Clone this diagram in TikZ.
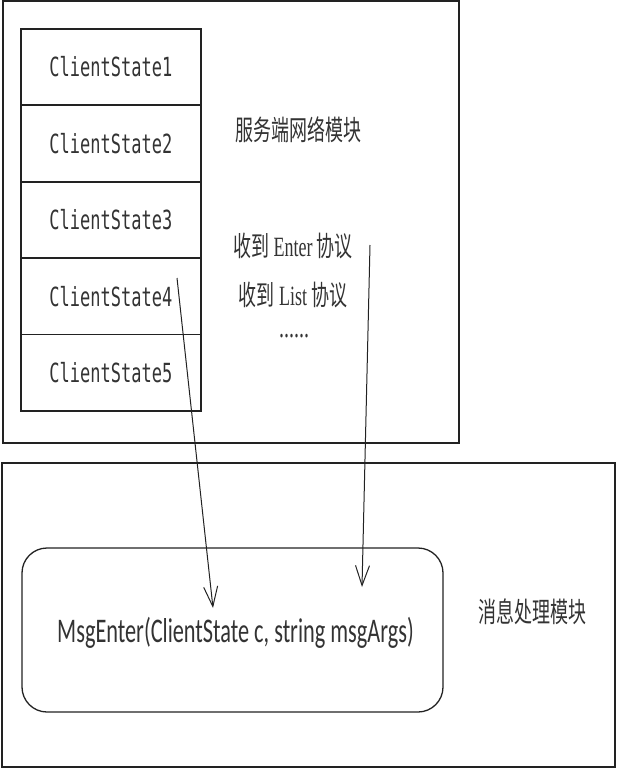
\documentclass[tikz,border=0pt]{standalone}
\usepackage{graphicx}
\usepackage{fontspec}
\setmainfont{Liberation Serif}
\newfontfamily\cjk{Noto Sans CJK SC}
\newfontfamily\monof{DejaVu Sans Mono}
\newfontfamily\calib{Carlito}
\usetikzlibrary{arrows.meta}
\definecolor{ink}{HTML}{222222}
\definecolor{txt}{HTML}{333333}
\newcommand\vstr[1]{\scalebox{1}[1.55]{#1}}
\tikzset{
  frame/.style={draw=ink, line width=1.3pt},
  csbox/.style={draw=ink, line width=1.8pt, minimum width=180pt, minimum height=76.4pt, inner sep=0pt, anchor=north west, text=txt, font=\monof\fontsize{17}{17}\selectfont},
  lbl/.style={text=txt, inner sep=0pt},
  conn/.style={draw=ink, line width=1pt, -{Straight Barb[length=20pt,width=14pt,line width=1pt]}},
}
\begin{document}
\begin{tikzpicture}[x=1pt,y=-1pt]
\useasboundingbox (0,0) rectangle (617,770);
% top module
\draw[frame] (3,1) rectangle (459,443);
\node[csbox] (cs1) at (20,28) {\vstr{ClientState1}};
\node[csbox] (cs2) at (20,104.4) {\vstr{ClientState2}};
\node[csbox] (cs3) at (20,180.8) {\vstr{ClientState3}};
\node[csbox] (cs4) at (20,257.2) {\vstr{ClientState4}};
\node[csbox] (cs5) at (20,333.6) {\vstr{ClientState5}};
\node[lbl, font=\cjk\fontsize{18}{18}\selectfont] (net) at (298,130) {\vstr{服务端网络模块}};
\node[lbl, font=\fontsize{18}{18}\selectfont] (enter) at (293,246) {\vstr{{\cjk 收到} Enter {\cjk 协议}}};
\node[lbl, font=\fontsize{18}{18}\selectfont] (list) at (293,295) {\vstr{{\cjk 收到} List {\cjk 协议}}};
\node[lbl, font=\fontsize{20}{20}\selectfont] (dots) at (294,336) {\vstr{......}};
% bottom module
\draw[frame] (2,463) rectangle (615,767);
\node[draw=ink, line width=1.3pt, rounded corners=25pt, minimum width=421pt, minimum height=164pt, inner sep=0pt] (msg) at (232.5,630) {};
\node[lbl, font=\calib\fontsize{22.3}{22.3}\selectfont] (msgtxt) at (235.5,633) {\vstr{MsgEnter(ClientState c, string msgArgs)}};
\node[lbl, font=\cjk\fontsize{18}{18}\selectfont] (proc) at (532,612) {\vstr{消息处理模块}};
% connectors
\coordinate (a1s) at (177,278);
\coordinate (a1e) at (213,608);
\coordinate (a2s) at (370,245);
\coordinate (a2e) at (362,587);
\draw[conn] (a1s) -- (a1e);
\draw[conn] (a2s) -- (a2e);
\end{tikzpicture}
\end{document}
